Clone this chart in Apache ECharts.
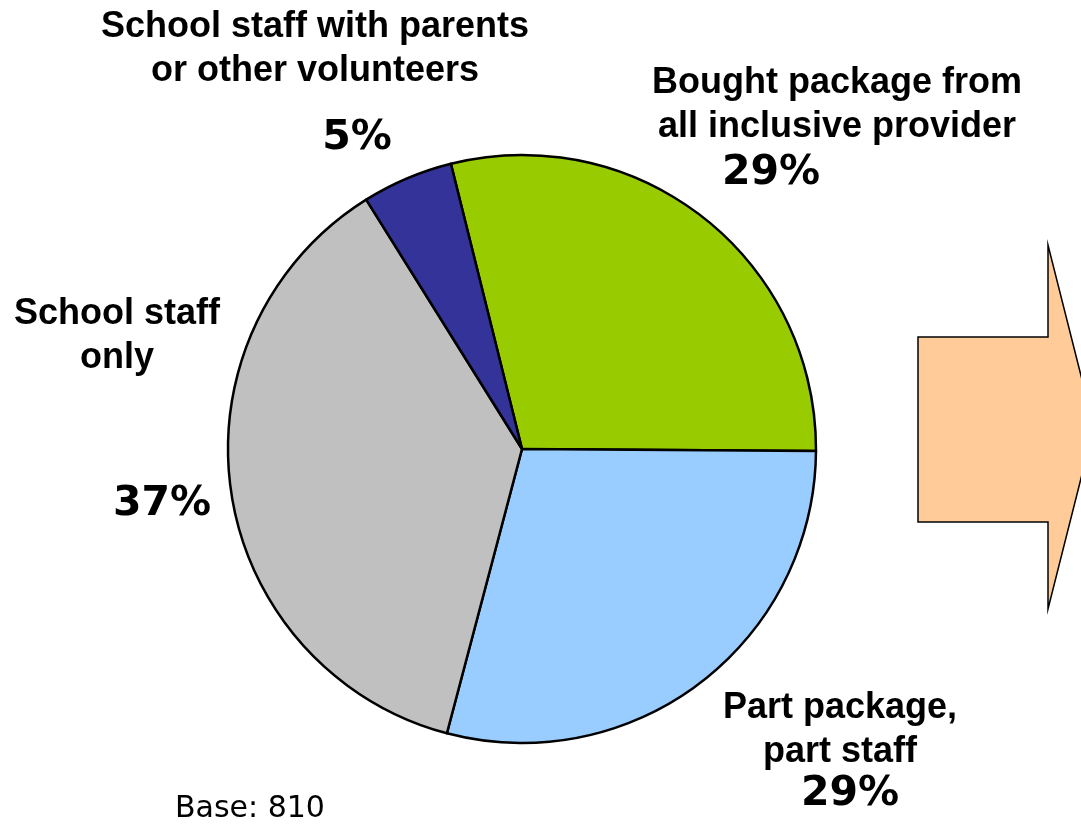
<!DOCTYPE html>
<html>
<head>
<meta charset="utf-8">
<script src="https://cdn.jsdelivr.net/npm/echarts@6/dist/echarts.min.js"></script>
<style>
  html, body { margin: 0; padding: 0; background: #ffffff; }
  #chart { width: 1081px; height: 826px; }
</style>
</head>
<body>
<div id="chart"></div>
<script>
// How the catering is organised (share of schools, %)
const categories = [
  'Bought package from\nall inclusive provider',
  'Part package,\npart staff',
  'School staff\nonly',
  'School staff with parents\nor other volunteers'
];
const shares = [29, 29, 37, 5];
const baseCount = 810;

// Layout of the slice name blocks and percentage figures (px)
const nameAnchors = [[837, 105], [840, 730], [117, 336], [315, 49]];
const pctAnchors = [[771, 173], [850, 794], [162, 504], [357, 138]];
const sliceColors = ['#99CC00', '#99CCFF', '#C0C0C0', '#333399'];

const chart = echarts.init(document.getElementById('chart'), null, { renderer: 'canvas' });

const pctTexts = shares.map((v, i) => ({
  type: 'text',
  x: pctAnchors[i][0],
  y: pctAnchors[i][1],
  style: {
    text: v + '%',
    fontFamily: 'DejaVu Sans',
    fontWeight: 'bold',
    fontSize: 41,
    fill: '#000000',
    align: 'center',
    verticalAlign: 'middle'
  }
}));

chart.setOption({
  animation: false,
  backgroundColor: '#ffffff',
  series: [{
    type: 'pie',
    center: [522, 449],
    radius: 294,
    startAngle: 104,
    clockwise: true,
    data: categories.map((name, i) => ({
      name: name,
      value: shares[i],
      itemStyle: { color: sliceColors[i] }
    })),
    itemStyle: { borderColor: '#000000', borderWidth: 2.5 },
    emphasis: { disabled: true },
    label: {
      show: true,
      formatter: '{b}',
      fontFamily: 'Liberation Sans, Arial, sans-serif',
      fontWeight: 'bold',
      fontSize: 36,
      lineHeight: 44,
      color: '#000000',
      align: 'center',
      overflow: 'none'
    },
    labelLine: { show: false },
    labelLayout: function (params) {
      const p = nameAnchors[params.dataIndex];
      return { x: p[0], y: p[1], align: 'center', verticalAlign: 'middle', width: 600 };
    }
  }],
  graphic: [
    {
      // Block arrow pointing right
      type: 'polygon',
      shape: {
        points: [[918, 337], [1048, 337], [1048, 245], [1094, 427],
                 [1048, 609], [1048, 522], [918, 522]]
      },
      style: { fill: '#FFCC99', stroke: '#000000', lineWidth: 1.5 }
    },
    {
      type: 'text',
      x: 175,
      y: 809,
      style: {
        text: 'Base: ' + baseCount,
        fontFamily: 'DejaVu Sans',
        fontSize: 30,
        fill: '#000000',
        align: 'left',
        verticalAlign: 'middle'
      }
    }
  ].concat(pctTexts)
});
</script>
</body>
</html>
